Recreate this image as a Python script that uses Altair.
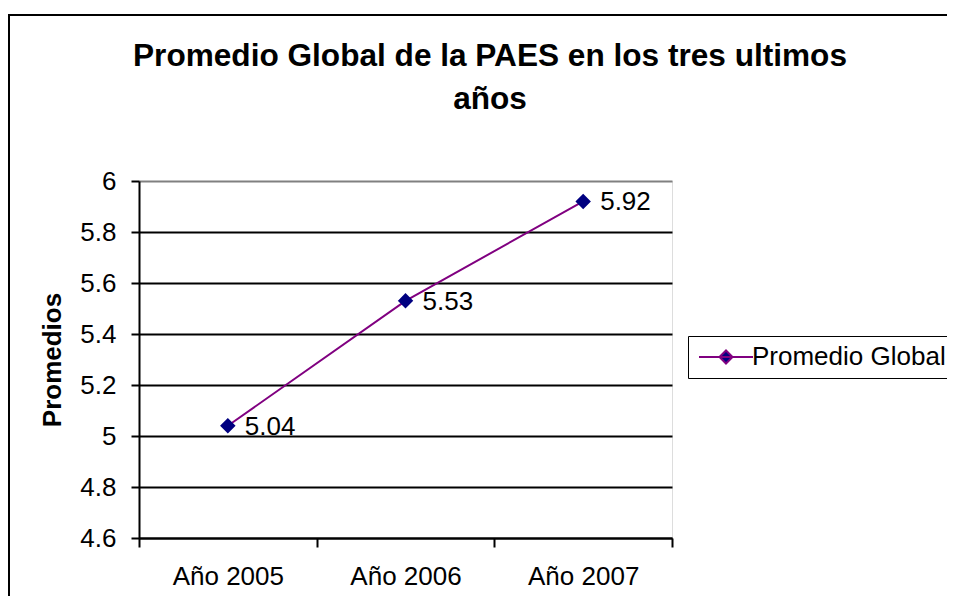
import altair as alt
import pandas as pd

years = ["Año 2005", "Año 2006", "Año 2007"]
values = [5.04, 5.53, 5.92]
series = ["Promedio Global", "Promedio Global", "Promedio Global"]
y_ticks = [4.6, 4.8, 5.0, 5.2, 5.4, 5.6, 5.8, 6.0]
title_lines = ["Promedio Global de la PAES en los tres ultimos", "años"]

df = pd.DataFrame({"year": years, "value": values, "series": series})

FONT = "Liberation Sans"
FS = 26
W, H = 533, 357

x_enc = alt.X(
    "year:N",
    sort=years,
    scale=alt.Scale(paddingInner=0, paddingOuter=0),
    axis=alt.Axis(
        title=None, tickBand="extent", grid=False, labelAngle=0,
        labelFontSize=FS, labelFont=FONT, labelColor="black", labelPadding=16,
        tickSize=9, tickWidth=2, tickColor="black",
        domainColor="black", domainWidth=2,
    ),
)
y_enc = alt.Y(
    "value:Q",
    scale=alt.Scale(domain=[4.6, 6.0], nice=False, zero=False),
    axis=alt.Axis(
        values=y_ticks, format="~r", title="Promedios",
        titleFont=FONT, titleFontSize=FS, titleFontWeight="bold", titleColor="black",
        titleAngle=270, titleX=-87, titleY=H / 2, titleAlign="center", titleBaseline="middle",
        labelFontSize=FS, labelFont=FONT, labelColor="black", labelPadding=15,
        tickSize=8, tickWidth=2, tickColor="black",
        domainColor="black", domainWidth=2,
        grid=True, gridWidth=2,
        gridColor=alt.condition("datum.value >= 5.99", alt.value("#808080"), alt.value("black")),
    ),
)

legend = alt.Legend(
    title=None, orient="none", legendX=549, legendY=155,
    symbolType="M-2.7,0L2.7,0M-0.65,0L0,-0.65L0.65,0L0,0.65Z",
    symbolSize=400, symbolStrokeWidth=2, symbolFillColor="#000080", symbolOffset=17,
    labelFont=FONT, labelFontSize=FS, labelColor="black", labelOffset=13, labelLimit=0,
    strokeColor="black", padding=8, fillColor="white",
)

line = alt.Chart(df).mark_line(strokeWidth=2).encode(
    x=x_enc, y=y_enc,
    color=alt.Color("series:N", scale=alt.Scale(range=["#800080"]), legend=legend),
)
points = alt.Chart(df).mark_point(
    shape="diamond", size=160, filled=True, fill="#000080", stroke="#000080", opacity=1
).encode(x=x_enc, y=y_enc)
labels = alt.Chart(df).mark_text(
    align="left", baseline="middle", dx=17, dy=1, fontSize=FS, font=FONT, color="black"
).encode(x=x_enc, y=y_enc, text=alt.Text("value:Q", format=".2f"))

one = pd.DataFrame({"a": [0]})
frame_top = alt.Chart(one).mark_rule(color="black", strokeWidth=2).encode(
    x=alt.value(-130), x2=alt.value(900), y=alt.value(-166),
)
frame_left = alt.Chart(one).mark_rule(color="black", strokeWidth=2).encode(
    x=alt.value(-130), y=alt.value(-167), y2=alt.value(460),
)

title = alt.Chart(one).mark_text(
    font=FONT, fontSize=31.6, fontWeight="bold", color="black",
    align="center", baseline="middle", lineHeight=43,
).encode(
    x=alt.value(351), y=alt.value(-124), text=alt.value(title_lines),
)

chart = alt.layer(frame_top, frame_left, title, line, points, labels).properties(
    width=W, height=H,
    autosize=alt.AutoSizeParams(type="none"),
    padding={"left": 131, "top": 173, "right": 275, "bottom": 58},
).configure_view(
    fill="#FFFFCC", stroke="#808080", strokeWidth=2
).configure(background="white")

chart.save("out.html", embed_options={"renderer": "svg", "actions": False})
